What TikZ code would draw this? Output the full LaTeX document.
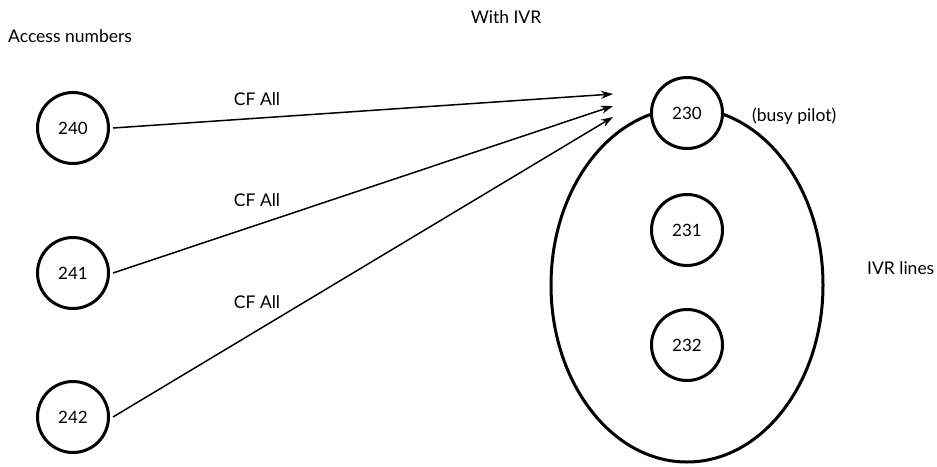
\documentclass[tikz,border=0pt]{standalone}
\usepackage{fontspec}
\setmainfont{Lato}
\usetikzlibrary{arrows.meta}
\begin{document}
\begin{tikzpicture}[x=1pt,y=-1pt,
  num/.style={circle,draw,line width=3pt,minimum size=71pt,inner sep=0pt,fill=white,font=\fontsize{17}{19}\selectfont},
  lbl/.style={font=\fontsize{17.5}{19}\selectfont,inner sep=0pt},
  fwd/.style={line width=1.5pt,-{Stealth[length=12pt,width=8pt]}}]
\useasboundingbox (0,0) rectangle (937,466);
\node[lbl,anchor=west] (acc) at (8,36) {Access numbers};
\node[lbl] (ivr) at (506,17) {With IVR};
\draw[line width=3pt] (687,285) ellipse [x radius=136,y radius=177] coordinate (group);
\node[num] (n240) at (73,128) {240};
\node[num] (n241) at (73,273) {241};
\node[num] (n242) at (73,417) {242};
\node[num] (n230) at (687,113) {230};
\node[num] (n231) at (687,230) {231};
\node[num] (n232) at (687,345) {232};
\node[lbl,anchor=west] (busy) at (752,116) {(busy pilot)};
\node[lbl,anchor=west] (ivrl) at (867,268) {IVR lines};
\coordinate (t1) at (613,94);
\coordinate (t2) at (613,106);
\coordinate (t3) at (613,117);
\draw[fwd] (n240.east) ++(3,0) -- (t1);
\draw[fwd] (n241.east) ++(3,0) -- (t2);
\draw[fwd] (n242.east) ++(3,0) -- (t3);
\node[lbl] (cf1) at (257,99) {CF All};
\node[lbl] (cf2) at (257,200) {CF All};
\node[lbl] (cf3) at (257,302) {CF All};
\end{tikzpicture}
\end{document}
